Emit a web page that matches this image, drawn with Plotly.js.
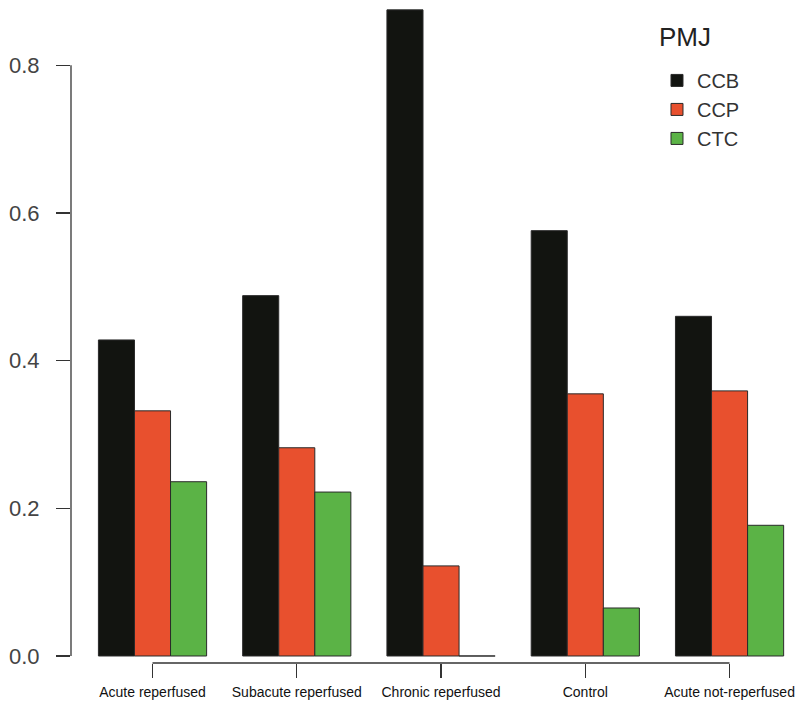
<!DOCTYPE html>
<html>
<head>
<meta charset="utf-8">
<script src="https://cdn.plot.ly/plotly-3.0.1.min.js"></script>
<style>html,body{margin:0;padding:0;background:#fff;}#chart{width:800px;height:701px;}</style>
</head>
<body>
<div id="chart"></div>
<script>
const categories = ["Acute reperfused", "Subacute reperfused", "Chronic reperfused", "Control", "Acute not-reperfused"];
const seriesNames = ["CCB", "CCP", "CTC"];
const ccb = [0.428, 0.488, 0.875, 0.576, 0.460];
const ccp = [0.332, 0.282, 0.122, 0.355, 0.359];
const ctc = [0.236, 0.222, 0.0, 0.065, 0.177];
const colors = ["#121410", "#e8502e", "#5bb346"];
const yTicks = [0, 0.2, 0.4, 0.6, 0.8];
const yTickText = ["0.0", "0.2", "0.4", "0.6", "0.8"];
const legendTitle = "PMJ";

const series = [ccb, ccp, ctc];
const traces = series.map((vals, i) => ({
  type: "bar",
  name: seriesNames[i],
  x: categories,
  y: vals,
  marker: {color: colors[i], line: {color: "#2a2a2a", width: 1}},
  hoverinfo: "x+y+name"
}));

const font = "Liberation Sans, Arial, Helvetica, sans-serif";
const layout = {
  width: 800, height: 701,
  margin: {l: 71, r: 10, t: 5, b: 38, pad: 0},
  paper_bgcolor: "#fff", plot_bgcolor: "#fff",
  barmode: "group", bargap: 0.25, bargroupgap: 0,
  font: {family: font, color: "#333"},
  xaxis: {
    type: "category",
    range: [-0.565, 4.419],
    showline: false, showgrid: false, zeroline: false,
    ticks: "outside", ticklen: 14, tickwidth: 1.3, tickcolor: "#333",
    tickfont: {size: 14, color: "#111", family: font},
    ticklabelstandoff: 2
  },
  yaxis: {
    range: [-0.0095, 0.8816],
    tickvals: yTicks, ticktext: yTickText,
    showline: false, showgrid: false, zeroline: false,
    ticks: "outside", ticklen: 14, tickwidth: 1.3, tickcolor: "#333",
    tickfont: {size: 22, color: "#444", family: font},
    ticklabelstandoff: 12
  },
  shapes: [
    {type: "line", xref: "paper", yref: "y", x0: 0, x1: 0, y0: yTicks[0], y1: yTicks[yTicks.length - 1], line: {color: "#333", width: 1.3}},
    {type: "line", xref: "x", yref: "paper", x0: 0, x1: categories.length - 1, y0: 0, y1: 0, line: {color: "#333", width: 1.3}}
  ],
  annotations: [
    {text: legendTitle, xref: "paper", yref: "paper", x: 0.815, y: 0.952, xanchor: "left", yanchor: "middle",
     showarrow: false, font: {size: 26, color: "#222", family: font}}
  ],
  legend: {
    x: 0.815, xanchor: "left", y: 0.915, yanchor: "top",
    bgcolor: "rgba(0,0,0,0)", borderwidth: 0,
    font: {size: 20, color: "#333", family: font},
    tracegroupgap: 0
  },
  showlegend: true
};

Plotly.newPlot("chart", traces, layout, {displayModeBar: false, staticPlot: true});
</script>
</body>
</html>
